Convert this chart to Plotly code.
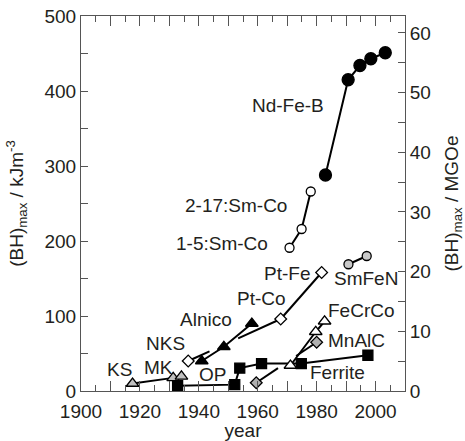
import plotly.graph_objects as go

# ---------------- data ----------------
ndfeb_year = [1983, 1990.7, 1994.7, 1998.4, 2003.3]
ndfeb_val = [288, 415, 434, 443, 451]

smco_year = [1970.8, 1974.9, 1978.0]
smco_val = [191, 216, 266]

smfen_year = [1990.8, 1997.0]
smfen_val = [169, 180]

pt_year = [1936.4, 1967.8, 1981.7]
pt_val = [40, 96, 158]

alnico_year = [1941.0, 1948.5, 1958.0]
alnico_val = [40, 59, 90]

mnalc_year = [1959.5, 1980.0]
mnalc_val = [11, 65]

fecrco_year = [1971.1, 1979.7, 1982.7]
fecrco_val = [34, 79, 93]

ks_year = [1917.5, 1931.3, 1934.1]
ks_val = [10, 17.5, 19.5]

ferrite_year = [1932.8, 1952.2, 1953.9, 1961.3, 1974.8, 1997.4]
ferrite_val = [7, 8.5, 30.5, 36.6, 36.6, 47.7]

label_text = ["Nd-Fe-B", "2-17:Sm-Co", "1-5:Sm-Co", "Pt-Fe", "SmFeN", "Pt-Co",
              "FeCrCo", "Alnico", "MnAlC", "NKS", "KS", "MK", "OP", "Ferrite"]
label_year = [1970.2, 1952.5, 1947.7, 1969.9, 1996.8, 1961.3,
              1995.2, 1942.3, 1993.5, 1928.7, 1912.9, 1926.4, 1944.8, 1987.0]
label_val = [381, 247, 197, 157, 150, 123,
             108, 95, 68, 63, 29, 32, 22, 25]

KJ_PER_MGOE = 7.9577

FONT = "Liberation Sans, Arial, Helvetica, sans-serif"
TXT = "#231f20"
LW = 2.0


def seg(xs, ys, f0, f1):
    """portion of the segment between point 0 and 1, from fraction f0 to f1"""
    x = [xs[0] + (xs[1] - xs[0]) * f for f in (f0, f1)]
    y = [ys[0] + (ys[1] - ys[0]) * f for f in (f0, f1)]
    return x, y


fig = go.Figure()


def line(x, y):
    fig.add_trace(go.Scatter(x=x, y=y, mode="lines", line=dict(color="black", width=LW),
                             showlegend=False, hoverinfo="skip"))


def markers(x, y, symbol, size, fill, lines=True):
    fig.add_trace(go.Scatter(x=x, y=y, mode="lines+markers" if lines else "markers",
                             line=dict(color="black", width=LW),
                             marker=dict(symbol=symbol, size=size, color=fill,
                                         line=dict(color="black", width=1.3)),
                             showlegend=False, hoverinfo="skip"))


# Pt line with a gap where Alnico crosses
x, y = seg(pt_year, pt_val, 0.0, 0.23)
line(x, y)
x, y = seg(pt_year, pt_val, 0.54, 1.0)
line(x, y)
line(pt_year[1:], pt_val[1:])

# MnAlC line with a gap
x, y = seg(mnalc_year, mnalc_val, 0.0, 0.36)
line(x, y)
x, y = seg(mnalc_year, mnalc_val, 0.66, 1.0)
line(x, y)

markers(ferrite_year, ferrite_val, "square", 10, "black")
markers(ks_year[:2], ks_val[:2], "triangle-up", 11, "#c0c0c0")
markers(ks_year[2:], ks_val[2:], "triangle-up", 11, "#c0c0c0", lines=False)
markers(alnico_year, alnico_val, "triangle-up", 11, "black")
markers(pt_year, pt_val, "diamond", 9, "white", lines=False)
markers(mnalc_year, mnalc_val, "diamond", 9, "#b0b0b0", lines=False)
markers(fecrco_year, fecrco_val, "triangle-up", 11, "white")
markers(smco_year, smco_val, "circle", 9, "white")
markers(smfen_year, smfen_val, "circle", 9, "#c8c8c8")
markers(ndfeb_year, ndfeb_val, "circle", 12, "black")

# invisible traces for the MGOe axis and the long-tick x axis
fig.add_trace(go.Scatter(x=[1900], y=[0], yaxis="y2", mode="markers",
                         marker=dict(opacity=0), showlegend=False, hoverinfo="skip"))
fig.add_trace(go.Scatter(x=[1900], y=[0], xaxis="x2", mode="markers",
                         marker=dict(opacity=0), showlegend=False, hoverinfo="skip"))

for t, xx, yy in zip(label_text, label_year, label_val):
    fig.add_annotation(x=xx, y=yy, text=t, showarrow=False, xanchor="center",
                       yanchor="middle", font=dict(family=FONT, size=19, color=TXT))

AX = "#555555"

fig.update_layout(
    width=465, height=441,
    margin=dict(l=81, r=60, t=16, b=50),
    paper_bgcolor="white", plot_bgcolor="white",
    font=dict(family=FONT, size=19, color=TXT),
    xaxis=dict(range=[1900, 2010], dtick=20, tick0=1900, automargin=False,
               ticks="inside", ticklen=10, tickwidth=1, tickcolor=AX,
               minor=dict(dtick=5, tick0=1900, ticks="inside", ticklen=6, tickcolor=AX, tickwidth=1),
               showline=True, linecolor=AX, linewidth=1, mirror="ticks",
               showgrid=False, zeroline=False, ticklabelstandoff=3,
               title=dict(text="year", standoff=6, font=dict(size=19)),
               tickfont=dict(size=19, color=TXT)),
    xaxis2=dict(range=[1900, 2010], overlaying="x", side="bottom", dtick=10, tick0=1900,
                ticks="inside", ticklen=10, tickwidth=1, tickcolor=AX, automargin=False,
                showticklabels=False, showline=False, mirror="ticks",
                showgrid=False, zeroline=False),
    yaxis=dict(range=[0, 500], dtick=100, tick0=0, automargin=False,
               ticks="inside", ticklen=7, tickwidth=1, tickcolor=AX,
               minor=dict(dtick=50, ticks="inside", ticklen=7, tickcolor=AX, tickwidth=1),
               showline=True, linecolor=AX, linewidth=1,
               showgrid=False, zeroline=False,
               title=dict(text="(BH)<sub>max</sub> / kJm<sup>-3</sup>", standoff=15,
                          font=dict(size=19)),
               tickfont=dict(size=19, color=TXT)),
    yaxis2=dict(range=[0, 500 / KJ_PER_MGOE], overlaying="y", side="right",
                dtick=10, tick0=0, automargin=False,
                ticks="inside", ticklen=7, tickwidth=1, tickcolor=AX,
                minor=dict(dtick=5, ticks="inside", ticklen=7, tickcolor=AX, tickwidth=1),
                showline=True, linecolor=AX, linewidth=1,
                showgrid=False, zeroline=False,
                title=dict(text="(BH)<sub>max</sub> / MGOe", standoff=19, font=dict(size=19)),
                tickfont=dict(size=19, color=TXT)),
)

fig.write_html("out.html")
